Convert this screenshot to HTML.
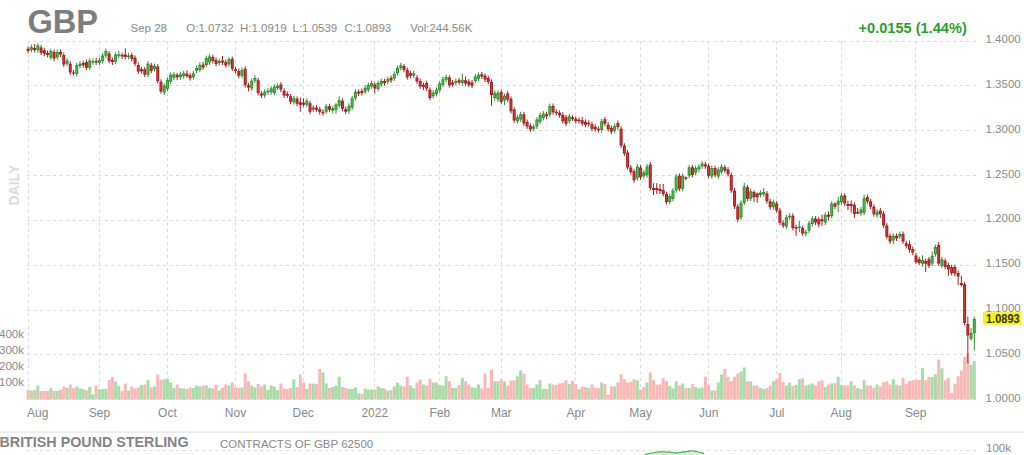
<!DOCTYPE html><html><head><meta charset="utf-8"><style>html,body{margin:0;padding:0;background:#fff;}body{width:1024px;height:455px;overflow:hidden;}svg{display:block;font-family:"Liberation Sans",Arial,Helvetica,sans-serif;}</style></head><body>
<svg width="1024" height="455" viewBox="0 0 1024 455">
<path d="M27 41.5H977 M27 85.5H977 M27 130.5H977 M27 175.5H977 M27 220.5H977 M27 265.5H977 M27 310.5H977 M27 354.5H977 M27 399.5H977 M28.5 41V399 M99.5 41V399 M167.5 41V399 M235.5 41V399 M303.5 41V399 M374.5 41V399 M439.5 41V399 M501.5 41V399 M575.5 41V399 M640.5 41V399 M708.5 41V399 M776.5 41V399 M841.5 41V399 M915.5 41V399" stroke="#dadada" stroke-width="1" stroke-dasharray="3.2 3.278" fill="none"/>
<path d="M26.62 389.8h3V399.5h-3zM33.10 389.8h3V399.5h-3zM39.58 391.0h3V399.5h-3zM42.82 391.0h3V399.5h-3zM46.06 391.0h3V399.5h-3zM52.54 391.0h3V399.5h-3zM59.02 389.8h3V399.5h-3zM62.26 386.4h3V399.5h-3zM68.75 384.4h3V399.5h-3zM71.99 388.3h3V399.5h-3zM84.95 390.3h3V399.5h-3zM94.67 385.4h3V399.5h-3zM107.63 380.0h3V399.5h-3zM110.87 377.1h3V399.5h-3zM120.59 391.3h3V399.5h-3zM123.83 383.4h3V399.5h-3zM130.31 386.5h3V399.5h-3zM133.55 388.6h3V399.5h-3zM136.79 387.5h3V399.5h-3zM143.27 384.4h3V399.5h-3zM149.76 387.5h3V399.5h-3zM156.24 374.6h3V399.5h-3zM159.48 379.8h3V399.5h-3zM175.68 384.4h3V399.5h-3zM185.40 389.1h3V399.5h-3zM188.64 387.5h3V399.5h-3zM201.60 385.5h3V399.5h-3zM211.32 388.6h3V399.5h-3zM214.56 385.0h3V399.5h-3zM221.04 388.1h3V399.5h-3zM224.28 384.4h3V399.5h-3zM230.77 382.4h3V399.5h-3zM234.01 387.5h3V399.5h-3zM237.25 388.1h3V399.5h-3zM243.73 373.6h3V399.5h-3zM246.97 381.3h3V399.5h-3zM256.69 383.9h3V399.5h-3zM259.93 386.5h3V399.5h-3zM279.37 383.4h3V399.5h-3zM282.61 388.6h3V399.5h-3zM285.85 389.1h3V399.5h-3zM289.09 388.1h3V399.5h-3zM295.57 387.0h3V399.5h-3zM298.81 374.6h3V399.5h-3zM302.05 382.4h3V399.5h-3zM308.53 383.4h3V399.5h-3zM315.02 383.9h3V399.5h-3zM318.26 368.9h3V399.5h-3zM327.98 388.1h3V399.5h-3zM340.94 387.0h3V399.5h-3zM344.18 388.1h3V399.5h-3zM360.38 393.7h3V399.5h-3zM373.34 389.6h3V399.5h-3zM383.06 388.6h3V399.5h-3zM389.54 390.1h3V399.5h-3zM402.51 386.5h3V399.5h-3zM405.75 376.7h3V399.5h-3zM415.47 382.4h3V399.5h-3zM418.71 379.8h3V399.5h-3zM425.19 385.5h3V399.5h-3zM428.43 378.8h3V399.5h-3zM447.87 381.3h3V399.5h-3zM457.59 385.0h3V399.5h-3zM464.07 381.3h3V399.5h-3zM467.31 384.4h3V399.5h-3zM480.28 388.6h3V399.5h-3zM483.52 373.6h3V399.5h-3zM486.76 388.1h3V399.5h-3zM490.00 369.5h3V399.5h-3zM499.72 379.3h3V399.5h-3zM506.20 385.5h3V399.5h-3zM509.44 380.8h3V399.5h-3zM512.68 380.3h3V399.5h-3zM522.40 373.6h3V399.5h-3zM525.64 384.4h3V399.5h-3zM528.88 388.1h3V399.5h-3zM545.08 389.1h3V399.5h-3zM551.56 384.4h3V399.5h-3zM554.81 385.0h3V399.5h-3zM558.05 383.4h3V399.5h-3zM561.29 382.9h3V399.5h-3zM564.53 380.3h3V399.5h-3zM571.01 380.8h3V399.5h-3zM574.25 383.9h3V399.5h-3zM580.73 386.5h3V399.5h-3zM583.97 387.0h3V399.5h-3zM590.45 384.4h3V399.5h-3zM593.69 387.5h3V399.5h-3zM596.93 388.1h3V399.5h-3zM603.41 383.9h3V399.5h-3zM606.65 394.8h3V399.5h-3zM609.89 386.5h3V399.5h-3zM616.37 382.4h3V399.5h-3zM619.61 374.6h3V399.5h-3zM622.85 379.3h3V399.5h-3zM626.09 382.4h3V399.5h-3zM629.33 381.9h3V399.5h-3zM632.57 379.3h3V399.5h-3zM639.06 389.6h3V399.5h-3zM642.30 387.0h3V399.5h-3zM648.78 372.6h3V399.5h-3zM652.02 380.3h3V399.5h-3zM655.26 384.4h3V399.5h-3zM658.50 384.4h3V399.5h-3zM661.74 378.2h3V399.5h-3zM664.98 381.3h3V399.5h-3zM677.94 385.5h3V399.5h-3zM684.42 388.1h3V399.5h-3zM690.90 383.9h3V399.5h-3zM703.86 376.7h3V399.5h-3zM707.10 384.4h3V399.5h-3zM713.58 390.6h3V399.5h-3zM723.31 368.9h3V399.5h-3zM726.55 376.7h3V399.5h-3zM729.79 381.3h3V399.5h-3zM733.03 376.7h3V399.5h-3zM736.27 373.6h3V399.5h-3zM745.99 381.3h3V399.5h-3zM752.47 385.5h3V399.5h-3zM755.71 385.5h3V399.5h-3zM765.43 388.1h3V399.5h-3zM768.67 385.5h3V399.5h-3zM775.15 379.3h3V399.5h-3zM778.39 373.1h3V399.5h-3zM781.63 381.9h3V399.5h-3zM791.35 386.0h3V399.5h-3zM801.08 378.2h3V399.5h-3zM814.04 385.5h3V399.5h-3zM817.28 381.3h3V399.5h-3zM820.52 380.3h3V399.5h-3zM827.00 384.4h3V399.5h-3zM833.48 382.9h3V399.5h-3zM843.20 385.5h3V399.5h-3zM846.44 385.5h3V399.5h-3zM852.92 385.5h3V399.5h-3zM859.40 389.1h3V399.5h-3zM865.88 385.5h3V399.5h-3zM869.12 385.5h3V399.5h-3zM872.36 388.1h3V399.5h-3zM878.85 386.5h3V399.5h-3zM882.09 382.4h3V399.5h-3zM885.33 381.3h3V399.5h-3zM888.57 384.4h3V399.5h-3zM895.05 384.4h3V399.5h-3zM901.53 377.7h3V399.5h-3zM904.77 383.7h3V399.5h-3zM908.01 380.9h3V399.5h-3zM911.25 380.3h3V399.5h-3zM914.49 379.7h3V399.5h-3zM917.73 379.7h3V399.5h-3zM924.21 380.3h3V399.5h-3zM927.45 376.9h3V399.5h-3zM937.17 359.7h3V399.5h-3zM943.65 380.3h3V399.5h-3zM946.89 378.0h3V399.5h-3zM950.13 392.9h3V399.5h-3zM953.37 383.7h3V399.5h-3zM956.61 376.3h3V399.5h-3zM959.86 370.6h3V399.5h-3zM963.10 356.9h3V399.5h-3zM966.34 353.0h3V399.5h-3z" fill="#f8b8b8"/>
<path d="M29.86 390.8h3V399.5h-3zM36.34 385.4h3V399.5h-3zM49.30 388.3h3V399.5h-3zM55.78 391.0h3V399.5h-3zM65.50 387.8h3V399.5h-3zM75.23 386.4h3V399.5h-3zM78.47 388.3h3V399.5h-3zM81.71 389.3h3V399.5h-3zM88.19 386.9h3V399.5h-3zM91.43 394.2h3V399.5h-3zM97.91 389.3h3V399.5h-3zM101.15 389.3h3V399.5h-3zM104.39 388.8h3V399.5h-3zM114.11 381.5h3V399.5h-3zM117.35 385.9h3V399.5h-3zM127.07 390.6h3V399.5h-3zM140.03 385.0h3V399.5h-3zM146.51 380.3h3V399.5h-3zM153.00 386.5h3V399.5h-3zM162.72 379.3h3V399.5h-3zM165.96 378.8h3V399.5h-3zM169.20 382.4h3V399.5h-3zM172.44 388.1h3V399.5h-3zM178.92 388.1h3V399.5h-3zM182.16 388.6h3V399.5h-3zM191.88 388.1h3V399.5h-3zM195.12 385.5h3V399.5h-3zM198.36 386.5h3V399.5h-3zM204.84 385.5h3V399.5h-3zM208.08 388.1h3V399.5h-3zM217.80 390.6h3V399.5h-3zM227.52 385.5h3V399.5h-3zM240.49 387.5h3V399.5h-3zM250.21 385.5h3V399.5h-3zM253.45 387.5h3V399.5h-3zM263.17 384.4h3V399.5h-3zM266.41 390.1h3V399.5h-3zM269.65 385.5h3V399.5h-3zM272.89 386.5h3V399.5h-3zM276.13 390.1h3V399.5h-3zM292.33 379.3h3V399.5h-3zM305.29 389.1h3V399.5h-3zM311.78 383.4h3V399.5h-3zM321.50 372.6h3V399.5h-3zM324.74 383.4h3V399.5h-3zM331.22 387.0h3V399.5h-3zM334.46 385.5h3V399.5h-3zM337.70 376.7h3V399.5h-3zM347.42 389.1h3V399.5h-3zM350.66 389.1h3V399.5h-3zM353.90 387.5h3V399.5h-3zM357.14 393.2h3V399.5h-3zM363.62 388.6h3V399.5h-3zM366.86 389.6h3V399.5h-3zM370.10 389.6h3V399.5h-3zM376.58 386.5h3V399.5h-3zM379.82 388.1h3V399.5h-3zM386.30 390.6h3V399.5h-3zM392.79 386.5h3V399.5h-3zM396.03 382.4h3V399.5h-3zM399.27 385.5h3V399.5h-3zM408.99 385.5h3V399.5h-3zM412.23 388.1h3V399.5h-3zM421.95 384.4h3V399.5h-3zM431.67 382.4h3V399.5h-3zM434.91 382.4h3V399.5h-3zM438.15 385.0h3V399.5h-3zM441.39 385.5h3V399.5h-3zM444.63 376.2h3V399.5h-3zM451.11 388.1h3V399.5h-3zM454.35 388.1h3V399.5h-3zM460.83 377.7h3V399.5h-3zM470.55 387.0h3V399.5h-3zM473.80 388.1h3V399.5h-3zM477.04 384.4h3V399.5h-3zM493.24 381.3h3V399.5h-3zM496.48 381.3h3V399.5h-3zM502.96 381.3h3V399.5h-3zM515.92 376.2h3V399.5h-3zM519.16 370.5h3V399.5h-3zM532.12 388.1h3V399.5h-3zM535.36 384.4h3V399.5h-3zM538.60 380.3h3V399.5h-3zM541.84 389.1h3V399.5h-3zM548.32 383.4h3V399.5h-3zM567.77 383.9h3V399.5h-3zM577.49 389.1h3V399.5h-3zM587.21 388.1h3V399.5h-3zM600.17 382.4h3V399.5h-3zM613.13 386.5h3V399.5h-3zM635.82 380.3h3V399.5h-3zM645.54 382.4h3V399.5h-3zM668.22 386.0h3V399.5h-3zM671.46 388.6h3V399.5h-3zM674.70 381.3h3V399.5h-3zM681.18 383.4h3V399.5h-3zM687.66 388.1h3V399.5h-3zM694.14 387.0h3V399.5h-3zM697.38 388.6h3V399.5h-3zM700.62 387.5h3V399.5h-3zM710.34 390.6h3V399.5h-3zM716.83 382.4h3V399.5h-3zM720.07 374.6h3V399.5h-3zM739.51 371.5h3V399.5h-3zM742.75 367.4h3V399.5h-3zM749.23 381.3h3V399.5h-3zM758.95 388.1h3V399.5h-3zM762.19 389.1h3V399.5h-3zM771.91 381.3h3V399.5h-3zM784.87 385.5h3V399.5h-3zM788.11 382.4h3V399.5h-3zM794.59 385.0h3V399.5h-3zM797.84 379.3h3V399.5h-3zM804.32 385.5h3V399.5h-3zM807.56 384.4h3V399.5h-3zM810.80 383.4h3V399.5h-3zM823.76 387.0h3V399.5h-3zM830.24 383.4h3V399.5h-3zM836.72 376.7h3V399.5h-3zM839.96 385.0h3V399.5h-3zM849.68 381.3h3V399.5h-3zM856.16 388.1h3V399.5h-3zM862.64 380.3h3V399.5h-3zM875.60 384.4h3V399.5h-3zM891.81 379.3h3V399.5h-3zM898.29 385.5h3V399.5h-3zM920.97 368.3h3V399.5h-3zM930.69 376.9h3V399.5h-3zM933.93 374.6h3V399.5h-3zM940.41 368.3h3V399.5h-3zM969.58 364.9h3V399.5h-3zM972.82 360.9h3V399.5h-3z" fill="#a8dba8"/>
<path d="M28.12 46.3V53.4M34.60 44.0V52.4M41.08 45.1V55.1M44.32 47.9V56.2M47.56 50.6V57.4M54.04 49.5V61.0M60.52 49.5V57.0M63.76 52.6V66.9M70.25 61.3V74.8M73.49 70.0V75.5M83.21 60.6V67.7M86.45 59.6V70.1M96.17 58.0V65.0M109.13 51.0V63.4M112.37 57.6V65.0M122.09 52.6V59.0M125.33 48.3V59.4M131.81 52.6V61.4M135.05 55.4V66.1M138.29 62.6V74.0M141.53 66.9V73.6M144.77 66.9V77.2M151.26 62.9V73.3M157.74 64.0V83.6M160.98 79.3V93.6M177.18 72.8V80.2M186.90 70.3V77.8M190.14 72.9V80.7M203.10 62.0V69.8M212.82 54.6V63.4M216.06 57.6V66.3M222.54 56.0V65.0M225.78 59.6V67.8M232.27 56.4V71.1M235.51 66.8V73.3M238.75 68.5V78.2M245.23 66.3V87.6M248.47 82.8V91.2M258.19 77.8V95.3M261.43 91.0V98.0M280.87 82.2V92.0M284.11 88.3V98.0M287.35 91.5V98.2M290.59 93.9V104.2M297.07 96.4V106.2M300.31 97.3V111.7M303.55 98.3V106.7M310.03 100.9V114.1M313.28 105.3V111.6M316.52 105.2V111.7M319.76 106.7V114.7M323.00 109.3V115.6M329.48 103.8V112.1M342.44 98.4V111.1M345.68 106.8V114.0M358.64 89.3V96.0M361.88 88.6V95.4M374.84 82.4V93.6M384.56 78.7V85.5M391.04 75.4V82.8M404.01 64.0V72.3M407.25 67.5V79.6M410.49 70.8V78.2M416.97 75.2V83.8M420.21 78.5V88.8M423.45 82.5V90.2M426.69 80.7V91.0M429.93 87.3V100.3M449.37 75.2V87.7M452.61 80.1V87.1M459.09 77.9V84.9M465.57 76.5V86.0M468.81 79.0V87.1M472.05 80.1V88.2M481.78 71.8V78.9M485.02 73.4V82.0M488.26 75.6V84.3M491.50 79.5V105.8M501.22 89.5V104.3M507.70 91.1V102.0M510.94 96.4V113.6M514.18 107.2V122.8M523.90 111.8V125.9M527.14 119.5V128.9M530.38 123.4V132.0M546.58 111.8V119.3M553.06 103.5V114.7M556.31 109.4V115.7M559.55 110.4V117.7M562.79 112.4V123.6M566.03 114.9V126.1M572.51 115.3V120.8M575.75 116.4V123.6M578.99 117.4V123.6M582.23 116.8V126.1M585.47 119.3V127.1M588.71 120.3V126.6M591.95 121.8V131.1M595.19 124.3V131.6M598.43 126.3V132.5M604.91 116.9V126.1M608.15 122.3V131.6M611.39 125.4V134.2M617.87 120.5V129.3M621.11 126.4V148.0M624.35 143.2V155.9M627.59 150.1V169.8M630.83 165.0V174.7M634.07 168.9V182.6M640.56 165.0V179.7M650.28 162.0V190.5M653.52 183.2V195.0M656.76 183.2V194.0M660.00 184.0V194.0M663.24 184.0V196.4M666.48 191.6V204.4M679.44 173.4V191.2M685.92 176.5V180.4M692.40 164.9V177.4M705.36 161.8V168.9M708.60 163.4V178.2M715.08 165.6V177.4M724.81 164.9V172.8M728.05 167.2V176.6M731.29 172.6V192.8M734.53 188.0V208.9M737.77 204.1V222.0M747.49 184.9V201.2M753.97 190.4V202.0M757.21 192.7V202.7M766.93 191.1V203.6M770.17 198.8V209.7M776.65 201.1V212.8M779.89 208.0V225.1M783.13 220.3V228.2M792.85 213.4V230.5M796.09 224.9V235.8M802.58 225.7V235.9M815.54 216.2V225.0M818.78 216.9V227.2M822.02 214.7V225.9M828.50 211.4V220.6M834.98 202.2V209.2M844.70 193.2V205.9M847.94 200.8V210.0M851.18 200.2V212.7M854.42 202.4V218.0M857.66 208.0V214.0M867.38 194.5V203.9M870.62 198.8V209.2M873.86 204.4V216.7M880.35 207.8V218.0M883.59 211.0V227.9M886.83 223.1V239.1M890.07 233.4V243.8M896.55 233.4V241.0M903.03 231.5V243.8M906.27 240.9V248.5M909.51 240.5V252.6M912.75 246.5V255.0M915.99 253.0V263.8M919.23 256.8V265.3M925.71 258.6V272.0M928.95 256.9V268.1M938.67 242.1V266.0M945.15 258.3V269.5M948.39 262.6V275.7M951.63 264.7V275.3M954.87 264.7V276.0M958.11 270.5V285.0M961.36 275.7V286.4M964.60 281.9V325.4M967.84 316.5V363.4" stroke="#a02020" stroke-width="1" fill="none"/>
<path d="M26.62 48.7h3v2.3h-3zM33.10 48.0h3v2.0h-3zM39.58 47.5h3v5.2h-3zM42.82 50.3h3v3.5h-3zM46.06 53.0h3v2.0h-3zM52.54 51.9h3v6.7h-3zM59.02 51.9h3v2.7h-3zM62.26 55.0h3v9.5h-3zM68.75 63.7h3v8.7h-3zM71.99 72.4h3v1.2h-3zM81.71 63.0h3v2.3h-3zM84.95 62.0h3v5.7h-3zM94.67 61.0h3v1.5h-3zM107.63 53.4h3v7.6h-3zM110.87 60.0h3v2.0h-3zM120.59 55.0h3v1.6h-3zM123.83 54.6h3v2.4h-3zM130.31 55.0h3v4.0h-3zM133.55 57.8h3v5.9h-3zM136.79 65.0h3v6.6h-3zM140.03 69.3h3v1.9h-3zM143.27 69.3h3v5.5h-3zM149.76 65.3h3v5.6h-3zM156.24 66.4h3v14.8h-3zM159.48 81.7h3v9.9h-3zM175.68 74.8h3v2.5h-3zM185.40 73.8h3v2.5h-3zM188.64 75.3h3v3.0h-3zM201.60 64.4h3v3.0h-3zM211.32 57.0h3v4.0h-3zM214.56 60.0h3v3.9h-3zM221.04 60.4h3v2.2h-3zM224.28 62.0h3v3.4h-3zM230.77 58.8h3v9.9h-3zM234.01 69.2h3v1.7h-3zM237.25 70.9h3v4.9h-3zM243.73 68.7h3v16.5h-3zM246.97 85.2h3v2.2h-3zM256.69 80.2h3v12.7h-3zM259.93 93.4h3v2.2h-3zM279.37 84.6h3v5.0h-3zM282.61 90.7h3v4.9h-3zM285.85 93.9h3v1.9h-3zM289.09 96.3h3v5.5h-3zM295.57 98.8h3v5.0h-3zM298.81 102.3h3v2.5h-3zM302.05 102.8h3v2.0h-3zM308.53 103.3h3v8.4h-3zM311.78 107.7h3v1.5h-3zM315.02 107.7h3v2.0h-3zM318.26 109.2h3v2.5h-3zM321.50 111.7h3v1.5h-3zM327.98 106.2h3v3.5h-3zM340.94 100.8h3v7.9h-3zM344.18 109.2h3v2.5h-3zM357.14 91.7h3v1.9h-3zM360.38 91.0h3v2.0h-3zM373.34 84.4h3v4.0h-3zM383.06 81.1h3v2.0h-3zM389.54 77.8h3v2.6h-3zM402.51 65.9h3v4.0h-3zM405.75 69.9h3v7.3h-3zM408.99 73.2h3v2.6h-3zM415.47 77.6h3v3.8h-3zM418.71 80.9h3v5.5h-3zM421.95 84.7h3v2.2h-3zM425.19 83.1h3v5.5h-3zM428.43 89.7h3v8.2h-3zM447.87 77.6h3v7.7h-3zM451.11 82.5h3v2.2h-3zM457.59 80.3h3v2.2h-3zM464.07 80.3h3v3.3h-3zM467.31 81.4h3v3.3h-3zM470.55 82.5h3v3.3h-3zM480.28 74.2h3v2.3h-3zM483.52 75.8h3v3.8h-3zM486.76 78.0h3v3.9h-3zM490.00 81.9h3v13.1h-3zM499.72 91.9h3v10.0h-3zM506.20 93.5h3v6.1h-3zM509.44 98.8h3v12.4h-3zM512.68 109.6h3v10.8h-3zM522.40 114.2h3v9.3h-3zM525.64 121.9h3v4.6h-3zM528.88 125.8h3v3.8h-3zM545.08 114.3h3v2.0h-3zM551.56 105.9h3v6.4h-3zM554.81 111.8h3v1.5h-3zM558.05 112.8h3v2.5h-3zM561.29 114.8h3v6.4h-3zM564.53 117.3h3v6.4h-3zM571.01 117.3h3v2.0h-3zM574.25 118.8h3v2.4h-3zM577.49 119.8h3v1.4h-3zM580.73 120.2h3v3.5h-3zM583.97 121.7h3v3.0h-3zM587.21 122.7h3v1.5h-3zM590.45 124.2h3v4.5h-3zM593.69 126.7h3v2.5h-3zM596.93 128.7h3v1.4h-3zM603.41 119.3h3v4.4h-3zM606.65 124.7h3v4.5h-3zM609.89 127.8h3v4.0h-3zM616.37 122.9h3v4.0h-3zM619.61 128.8h3v16.8h-3zM622.85 145.6h3v7.9h-3zM626.09 152.5h3v14.9h-3zM629.33 167.4h3v4.9h-3zM632.57 171.3h3v8.9h-3zM639.06 167.4h3v9.9h-3zM648.78 164.4h3v23.7h-3zM652.02 188.1h3v2.0h-3zM655.26 188.1h3v2.0h-3zM658.50 189.0h3v2.0h-3zM661.74 190.0h3v4.0h-3zM664.98 194.0h3v8.0h-3zM677.94 175.8h3v13.0h-3zM684.42 177.3h3v1.5h-3zM690.90 167.3h3v7.7h-3zM703.86 164.2h3v2.3h-3zM707.10 165.8h3v10.0h-3zM713.58 168.0h3v7.0h-3zM723.31 167.3h3v3.1h-3zM726.55 169.6h3v4.6h-3zM729.79 175.0h3v15.4h-3zM733.03 190.4h3v16.1h-3zM736.27 206.5h3v13.1h-3zM745.99 187.3h3v11.5h-3zM752.47 191.9h3v5.4h-3zM755.71 193.5h3v3.8h-3zM765.43 193.5h3v7.7h-3zM768.67 201.2h3v6.1h-3zM775.15 203.5h3v6.9h-3zM778.39 210.4h3v12.3h-3zM781.63 222.7h3v3.1h-3zM791.35 215.8h3v12.3h-3zM794.59 227.3h3v1.5h-3zM801.08 228.1h3v5.4h-3zM814.04 218.6h3v4.0h-3zM817.28 219.3h3v5.3h-3zM820.52 219.3h3v2.0h-3zM827.00 214.7h3v2.0h-3zM833.48 203.5h3v3.3h-3zM843.20 195.6h3v7.9h-3zM846.44 204.1h3v2.0h-3zM849.68 204.1h3v2.0h-3zM852.92 204.8h3v9.2h-3zM856.16 212.0h3v1.4h-3zM865.88 196.9h3v4.6h-3zM869.12 201.2h3v5.6h-3zM872.36 206.8h3v7.5h-3zM878.85 210.6h3v3.7h-3zM882.09 213.4h3v12.1h-3zM885.33 225.5h3v11.2h-3zM888.57 235.8h3v5.6h-3zM895.05 235.8h3v2.8h-3zM901.53 233.9h3v7.5h-3zM904.77 243.3h3v2.8h-3zM908.01 244.2h3v5.6h-3zM911.25 248.9h3v3.7h-3zM914.49 255.4h3v6.6h-3zM917.73 259.2h3v3.7h-3zM924.21 261.0h3v2.8h-3zM927.45 259.3h3v6.4h-3zM937.17 245.0h3v18.6h-3zM943.65 260.7h3v6.4h-3zM946.89 265.0h3v4.3h-3zM950.13 267.1h3v5.8h-3zM953.37 267.1h3v6.5h-3zM956.61 272.9h3v3.5h-3zM959.86 282.9h3v2.1h-3zM963.10 284.3h3v38.7h-3zM966.34 323.9h3v11.5h-3z" fill="#a02020"/>
<path d="M40.58 48.5h1v3.2h-1zM43.82 51.3h1v1.5h-1zM53.54 52.9h1v4.7h-1zM60.02 52.9h1v0.7h-1zM63.26 56.0h1v7.5h-1zM69.75 64.7h1v6.7h-1zM85.95 63.0h1v3.7h-1zM108.63 54.4h1v5.6h-1zM131.31 56.0h1v2.0h-1zM134.55 58.8h1v3.9h-1zM137.79 66.0h1v4.6h-1zM144.27 70.3h1v3.5h-1zM150.76 66.3h1v3.6h-1zM157.24 67.4h1v12.8h-1zM160.48 82.7h1v7.9h-1zM189.64 76.3h1v1.0h-1zM202.60 65.4h1v1.0h-1zM212.32 58.0h1v2.0h-1zM215.56 61.0h1v1.9h-1zM225.28 63.0h1v1.4h-1zM231.77 59.8h1v7.9h-1zM238.25 71.9h1v2.9h-1zM244.73 69.7h1v14.5h-1zM257.69 81.2h1v10.7h-1zM280.37 85.6h1v3.0h-1zM283.61 91.7h1v2.9h-1zM290.09 97.3h1v3.5h-1zM296.57 99.8h1v3.0h-1zM309.53 104.3h1v6.4h-1zM328.98 107.2h1v1.5h-1zM341.94 101.8h1v5.9h-1zM374.34 85.4h1v2.0h-1zM390.54 78.8h1v0.6h-1zM403.51 66.9h1v2.0h-1zM406.75 70.9h1v5.3h-1zM409.99 74.2h1v0.6h-1zM416.47 78.6h1v1.8h-1zM419.71 81.9h1v3.5h-1zM426.19 84.1h1v3.5h-1zM429.43 90.7h1v6.2h-1zM448.87 78.6h1v5.7h-1zM465.07 81.3h1v1.3h-1zM468.31 82.4h1v1.3h-1zM471.55 83.5h1v1.3h-1zM484.52 76.8h1v1.8h-1zM487.76 79.0h1v1.9h-1zM491.00 82.9h1v11.1h-1zM500.72 92.9h1v8.0h-1zM507.20 94.5h1v4.1h-1zM510.44 99.8h1v10.4h-1zM513.68 110.6h1v8.8h-1zM523.40 115.2h1v7.3h-1zM526.64 122.9h1v2.6h-1zM529.88 126.8h1v1.8h-1zM552.56 106.9h1v4.4h-1zM562.29 115.8h1v4.4h-1zM565.53 118.3h1v4.4h-1zM581.73 121.2h1v1.5h-1zM584.97 122.7h1v1.0h-1zM591.45 125.2h1v2.5h-1zM604.41 120.3h1v2.4h-1zM607.65 125.7h1v2.5h-1zM610.89 128.8h1v2.0h-1zM617.37 123.9h1v2.0h-1zM620.61 129.8h1v14.8h-1zM623.85 146.6h1v5.9h-1zM627.09 153.5h1v12.9h-1zM630.33 168.4h1v2.9h-1zM633.57 172.3h1v6.9h-1zM640.06 168.4h1v7.9h-1zM649.78 165.4h1v21.7h-1zM662.74 191.0h1v2.0h-1zM665.98 195.0h1v6.0h-1zM678.94 176.8h1v11.0h-1zM691.90 168.3h1v5.7h-1zM708.10 166.8h1v8.0h-1zM714.58 169.0h1v5.0h-1zM724.31 168.3h1v1.1h-1zM727.55 170.6h1v2.6h-1zM730.79 176.0h1v13.4h-1zM734.03 191.4h1v14.1h-1zM737.27 207.5h1v11.1h-1zM746.99 188.3h1v9.5h-1zM753.47 192.9h1v3.4h-1zM756.71 194.5h1v1.8h-1zM766.43 194.5h1v5.7h-1zM769.67 202.2h1v4.1h-1zM776.15 204.5h1v4.9h-1zM779.39 211.4h1v10.3h-1zM782.63 223.7h1v1.1h-1zM792.35 216.8h1v10.3h-1zM802.08 229.1h1v3.4h-1zM815.04 219.6h1v2.0h-1zM818.28 220.3h1v3.3h-1zM834.48 204.5h1v1.3h-1zM844.20 196.6h1v5.9h-1zM853.92 205.8h1v7.2h-1zM866.88 197.9h1v2.6h-1zM870.12 202.2h1v3.6h-1zM873.36 207.8h1v5.5h-1zM879.85 211.6h1v1.7h-1zM883.09 214.4h1v10.1h-1zM886.33 226.5h1v9.2h-1zM889.57 236.8h1v3.6h-1zM896.05 236.8h1v0.8h-1zM902.53 234.9h1v5.5h-1zM905.77 244.3h1v0.8h-1zM909.01 245.2h1v3.6h-1zM912.25 249.9h1v1.7h-1zM915.49 256.4h1v4.6h-1zM918.73 260.2h1v1.7h-1zM925.21 262.0h1v0.8h-1zM928.45 260.3h1v4.4h-1zM938.17 246.0h1v16.6h-1zM944.65 261.7h1v4.4h-1zM947.89 266.0h1v2.3h-1zM951.13 268.1h1v3.8h-1zM954.37 268.1h1v4.5h-1zM957.61 273.9h1v1.5h-1zM964.10 285.3h1v36.7h-1zM967.34 324.9h1v9.5h-1z" fill="#d83a3a"/>
<path d="M31.36 44.6V52.4M37.84 43.1V52.7M50.80 48.6V59.8M57.28 49.5V59.8M67.00 58.2V66.1M76.73 62.9V76.4M79.97 61.3V68.4M89.69 58.2V70.1M92.93 58.6V64.9M99.41 57.6V65.4M102.65 53.0V63.4M105.89 48.6V58.2M115.61 52.2V64.2M118.85 51.0V58.2M128.57 53.0V59.4M148.01 61.3V77.2M154.50 63.6V71.7M164.22 83.3V95.0M167.46 77.4V91.1M170.70 72.4V84.1M173.94 71.9V80.2M180.42 71.9V79.7M183.66 70.9V78.7M193.38 70.9V79.7M196.62 65.5V73.2M199.86 62.5V72.3M206.34 55.6V67.3M209.58 54.1V64.8M219.30 58.6V65.4M229.02 56.9V66.7M241.99 67.4V78.2M251.71 78.4V90.9M254.95 75.3V83.2M264.67 89.4V98.0M267.91 88.3V94.7M271.15 86.1V94.7M274.39 84.4V95.3M277.63 83.3V90.3M293.83 95.9V104.7M306.79 98.4V107.2M326.24 103.8V114.1M332.72 105.8V113.1M335.96 103.2V113.7M339.20 96.3V107.9M348.92 103.3V113.6M352.16 95.9V109.9M355.40 89.3V100.7M365.12 85.3V94.1M368.36 82.6V92.1M371.60 80.6V88.8M378.08 80.6V91.4M381.32 78.7V86.8M387.80 76.7V84.2M394.29 71.5V80.9M397.53 65.5V75.6M400.77 62.9V70.3M413.73 70.8V78.2M433.17 90.0V98.7M436.41 87.3V96.5M439.65 81.2V92.6M442.89 76.8V87.1M446.13 74.6V82.2M455.85 78.5V85.5M462.33 73.7V85.5M475.30 74.1V83.3M478.54 72.4V81.1M494.74 90.3V100.5M497.98 90.3V102.0M504.46 93.4V105.0M517.42 114.9V123.6M520.66 111.8V122.0M533.62 124.1V131.2M536.86 117.2V128.9M540.10 112.6V124.3M543.34 111.1V120.5M549.82 103.5V117.2M569.27 113.9V123.6M601.67 118.8V132.5M614.63 123.5V133.2M637.32 164.0V180.6M643.80 169.9V178.7M647.04 164.0V177.7M669.72 193.6V204.4M672.96 188.1V201.4M676.20 174.1V192.8M682.68 173.4V191.2M689.16 164.9V178.2M695.64 165.6V175.1M698.88 164.1V172.0M702.12 161.1V168.9M711.84 165.6V178.9M718.33 167.2V178.9M721.57 164.1V174.3M741.01 200.3V219.7M744.25 182.7V205.1M750.73 188.8V201.2M760.45 190.3V197.4M763.69 188.0V196.6M773.41 199.5V209.7M786.37 214.9V228.9M789.61 213.4V219.7M799.34 221.0V232.0M805.82 229.9V236.5M809.06 220.9V232.9M812.30 216.2V226.3M825.26 212.3V225.0M831.74 201.1V218.4M838.22 196.9V212.0M841.46 193.2V204.6M860.90 207.0V215.8M864.14 194.9V215.1M877.10 209.1V217.6M893.31 233.4V244.2M899.79 231.5V239.1M922.47 255.4V266.6M932.19 251.4V266.0M935.43 244.7V256.7M941.91 256.9V268.1M971.08 328.0V340.5M974.32 316.6V350.6" stroke="#2f8f2f" stroke-width="1" fill="none"/>
<path d="M29.86 47.0h3v3.0h-3zM36.34 45.5h3v4.8h-3zM49.30 51.0h3v6.4h-3zM55.78 51.9h3v5.5h-3zM65.50 60.6h3v3.1h-3zM75.23 65.3h3v8.7h-3zM78.47 63.7h3v2.3h-3zM88.19 60.6h3v7.1h-3zM91.43 61.0h3v1.5h-3zM97.91 60.0h3v3.0h-3zM101.15 55.4h3v5.6h-3zM104.39 51.0h3v4.8h-3zM114.11 54.6h3v7.2h-3zM117.35 54.2h3v1.6h-3zM127.07 55.4h3v1.6h-3zM146.51 63.7h3v11.1h-3zM153.00 66.0h3v3.3h-3zM162.72 85.7h3v6.9h-3zM165.96 79.8h3v8.9h-3zM169.20 74.8h3v6.9h-3zM172.44 74.3h3v3.5h-3zM178.92 74.3h3v3.0h-3zM182.16 73.3h3v3.0h-3zM191.88 73.3h3v4.0h-3zM195.12 67.9h3v2.9h-3zM198.36 64.9h3v5.0h-3zM204.84 58.0h3v6.9h-3zM208.08 56.5h3v5.9h-3zM217.80 61.0h3v2.0h-3zM227.52 59.3h3v5.0h-3zM240.49 69.8h3v6.0h-3zM250.21 80.8h3v7.7h-3zM253.45 78.0h3v2.8h-3zM263.17 91.8h3v3.8h-3zM266.41 90.7h3v1.6h-3zM269.65 88.5h3v3.8h-3zM272.89 86.8h3v6.1h-3zM276.13 85.7h3v2.2h-3zM292.33 98.3h3v4.0h-3zM305.29 100.8h3v4.0h-3zM324.74 106.2h3v5.5h-3zM331.22 108.2h3v2.5h-3zM334.46 104.5h3v5.3h-3zM337.70 99.9h3v5.6h-3zM347.42 105.7h3v5.5h-3zM350.66 98.3h3v9.2h-3zM353.90 91.7h3v6.6h-3zM363.62 87.7h3v4.0h-3zM366.86 85.0h3v4.7h-3zM370.10 83.0h3v3.4h-3zM376.58 83.0h3v6.0h-3zM379.82 81.1h3v3.3h-3zM386.30 79.1h3v2.7h-3zM392.79 73.9h3v4.6h-3zM396.03 67.9h3v5.3h-3zM399.27 65.3h3v2.6h-3zM412.23 73.2h3v2.6h-3zM431.67 92.4h3v3.9h-3zM434.91 89.7h3v4.4h-3zM438.15 83.6h3v6.6h-3zM441.39 79.2h3v5.5h-3zM444.63 77.0h3v2.8h-3zM454.35 80.9h3v2.2h-3zM460.83 79.8h3v3.3h-3zM473.80 76.5h3v4.4h-3zM477.04 74.8h3v3.9h-3zM493.24 92.7h3v5.4h-3zM496.48 92.7h3v6.9h-3zM502.96 95.8h3v4.6h-3zM515.92 117.3h3v3.9h-3zM519.16 114.2h3v5.4h-3zM532.12 126.5h3v2.3h-3zM535.36 119.6h3v6.9h-3zM538.60 115.0h3v6.9h-3zM541.84 113.5h3v4.6h-3zM548.32 105.9h3v8.9h-3zM567.77 116.3h3v4.9h-3zM600.17 121.2h3v8.9h-3zM613.13 125.9h3v4.9h-3zM635.82 166.4h3v11.8h-3zM642.30 172.3h3v4.0h-3zM645.54 166.4h3v8.9h-3zM668.22 196.0h3v6.0h-3zM671.46 190.5h3v8.5h-3zM674.70 176.5h3v13.9h-3zM681.18 175.8h3v13.0h-3zM687.66 167.3h3v8.5h-3zM694.14 168.0h3v4.7h-3zM697.38 166.5h3v3.1h-3zM700.62 163.5h3v3.0h-3zM710.34 168.0h3v8.5h-3zM716.83 169.6h3v6.9h-3zM720.07 166.5h3v5.4h-3zM739.51 202.7h3v14.6h-3zM742.75 186.5h3v16.2h-3zM749.23 191.2h3v7.6h-3zM758.95 192.7h3v2.3h-3zM762.19 191.9h3v2.3h-3zM771.91 201.9h3v5.4h-3zM784.87 217.3h3v9.2h-3zM788.11 215.8h3v1.5h-3zM797.84 226.5h3v1.6h-3zM804.32 231.8h3v2.0h-3zM807.56 223.3h3v7.2h-3zM810.80 218.6h3v5.3h-3zM823.76 214.7h3v7.9h-3zM830.24 203.5h3v12.5h-3zM836.72 200.8h3v4.0h-3zM839.96 195.6h3v6.6h-3zM859.40 209.4h3v4.0h-3zM862.64 198.2h3v14.5h-3zM875.60 211.5h3v3.7h-3zM891.81 235.8h3v4.7h-3zM898.29 233.9h3v2.8h-3zM920.97 260.0h3v3.8h-3zM930.69 255.7h3v7.9h-3zM933.93 247.1h3v7.2h-3zM940.41 259.3h3v6.4h-3zM969.58 333.0h3v5.7h-3zM972.82 319.0h3v14.3h-3z" fill="#2f8f2f"/>
<path d="M30.86 48.0h1v1.0h-1zM37.34 46.5h1v2.8h-1zM50.30 52.0h1v4.4h-1zM56.78 52.9h1v3.5h-1zM66.50 61.6h1v1.1h-1zM76.23 66.3h1v6.7h-1zM89.19 61.6h1v5.1h-1zM98.91 61.0h1v1.0h-1zM102.15 56.4h1v3.6h-1zM105.39 52.0h1v2.8h-1zM115.11 55.6h1v5.2h-1zM147.51 64.7h1v9.1h-1zM154.00 67.0h1v1.3h-1zM163.72 86.7h1v4.9h-1zM166.96 80.8h1v6.9h-1zM170.20 75.8h1v4.9h-1zM173.44 75.3h1v1.5h-1zM179.92 75.3h1v1.0h-1zM183.16 74.3h1v1.0h-1zM192.88 74.3h1v2.0h-1zM196.12 68.9h1v0.9h-1zM199.36 65.9h1v3.0h-1zM205.84 59.0h1v4.9h-1zM209.08 57.5h1v3.9h-1zM228.52 60.3h1v3.0h-1zM241.49 70.8h1v4.0h-1zM251.21 81.8h1v5.7h-1zM254.45 79.0h1v0.8h-1zM264.17 92.8h1v1.8h-1zM270.65 89.5h1v1.8h-1zM273.89 87.8h1v4.1h-1zM293.33 99.3h1v2.0h-1zM306.29 101.8h1v2.0h-1zM325.74 107.2h1v3.5h-1zM335.46 105.5h1v3.3h-1zM338.70 100.9h1v3.6h-1zM348.42 106.7h1v3.5h-1zM351.66 99.3h1v7.2h-1zM354.90 92.7h1v4.6h-1zM364.62 88.7h1v2.0h-1zM367.86 86.0h1v2.7h-1zM371.10 84.0h1v1.4h-1zM377.58 84.0h1v4.0h-1zM380.82 82.1h1v1.3h-1zM387.30 80.1h1v0.7h-1zM393.79 74.9h1v2.6h-1zM397.03 68.9h1v3.3h-1zM400.27 66.3h1v0.6h-1zM413.23 74.2h1v0.6h-1zM432.67 93.4h1v1.9h-1zM435.91 90.7h1v2.4h-1zM439.15 84.6h1v4.6h-1zM442.39 80.2h1v3.5h-1zM445.63 78.0h1v0.8h-1zM461.83 80.8h1v1.3h-1zM474.80 77.5h1v2.4h-1zM478.04 75.8h1v1.9h-1zM494.24 93.7h1v3.4h-1zM497.48 93.7h1v4.9h-1zM503.96 96.8h1v2.6h-1zM516.92 118.3h1v1.9h-1zM520.16 115.2h1v3.4h-1zM536.36 120.6h1v4.9h-1zM539.60 116.0h1v4.9h-1zM542.84 114.5h1v2.6h-1zM549.32 106.9h1v6.9h-1zM568.77 117.3h1v2.9h-1zM601.17 122.2h1v6.9h-1zM614.13 126.9h1v2.9h-1zM636.82 167.4h1v9.8h-1zM643.30 173.3h1v2.0h-1zM646.54 167.4h1v6.9h-1zM669.22 197.0h1v4.0h-1zM672.46 191.5h1v6.5h-1zM675.70 177.5h1v11.9h-1zM682.18 176.8h1v11.0h-1zM688.66 168.3h1v6.5h-1zM695.14 169.0h1v2.7h-1zM698.38 167.5h1v1.1h-1zM701.62 164.5h1v1.0h-1zM711.34 169.0h1v6.5h-1zM717.83 170.6h1v4.9h-1zM721.07 167.5h1v3.4h-1zM740.51 203.7h1v12.6h-1zM743.75 187.5h1v14.2h-1zM750.23 192.2h1v5.6h-1zM772.91 202.9h1v3.4h-1zM785.87 218.3h1v7.2h-1zM808.56 224.3h1v5.2h-1zM811.80 219.6h1v3.3h-1zM824.76 215.7h1v5.9h-1zM831.24 204.5h1v10.5h-1zM837.72 201.8h1v2.0h-1zM840.96 196.6h1v4.6h-1zM860.40 210.4h1v2.0h-1zM863.64 199.2h1v12.5h-1zM876.60 212.5h1v1.7h-1zM892.81 236.8h1v2.7h-1zM899.29 234.9h1v0.8h-1zM921.97 261.0h1v1.8h-1zM931.69 256.7h1v5.9h-1zM934.93 248.1h1v5.2h-1zM941.41 260.3h1v4.4h-1zM970.58 334.0h1v3.7h-1zM973.82 320.0h1v12.3h-1z" fill="#55c455"/>
<text x="985.5" y="42.9" font-size="11.5" fill="#8a8a8a">1.4000</text>
<text x="985.5" y="87.8" font-size="11.5" fill="#8a8a8a">1.3500</text>
<text x="985.5" y="132.6" font-size="11.5" fill="#8a8a8a">1.3000</text>
<text x="985.5" y="177.5" font-size="11.5" fill="#8a8a8a">1.2500</text>
<text x="985.5" y="222.3" font-size="11.5" fill="#8a8a8a">1.2000</text>
<text x="985.5" y="267.1" font-size="11.5" fill="#8a8a8a">1.1500</text>
<text x="985.5" y="312.0" font-size="11.5" fill="#8a8a8a">1.1000</text>
<text x="985.5" y="356.8" font-size="11.5" fill="#8a8a8a">1.0500</text>
<text x="985.5" y="401.7" font-size="11.5" fill="#8a8a8a">1.0000</text>
<rect x="983" y="312.2" width="38.6" height="12.5" fill="#f2f21e"/>
<text x="986" y="322.7" font-size="12.2" font-weight="bold" fill="#36360a" textLength="33.6" lengthAdjust="spacingAndGlyphs">1.0893</text>
<text x="24" y="337.7" font-size="11.5" fill="#8a8a8a" text-anchor="end">400k</text>
<text x="24" y="353.5" font-size="11.5" fill="#8a8a8a" text-anchor="end">300k</text>
<text x="24" y="369.7" font-size="11.5" fill="#8a8a8a" text-anchor="end">200k</text>
<text x="24" y="385.5" font-size="11.5" fill="#8a8a8a" text-anchor="end">100k</text>
<text x="27" y="417" font-size="12" fill="#8a8a8a">Aug</text>
<text x="99.5" y="417" font-size="12" fill="#8a8a8a" text-anchor="middle">Sep</text>
<text x="167.4" y="417" font-size="12" fill="#8a8a8a" text-anchor="middle">Oct</text>
<text x="235.5" y="417" font-size="12" fill="#8a8a8a" text-anchor="middle">Nov</text>
<text x="303.2" y="417" font-size="12" fill="#8a8a8a" text-anchor="middle">Dec</text>
<text x="374.8" y="417" font-size="12" fill="#8a8a8a" text-anchor="middle">2022</text>
<text x="439.9" y="417" font-size="12" fill="#8a8a8a" text-anchor="middle">Feb</text>
<text x="501.3" y="417" font-size="12" fill="#8a8a8a" text-anchor="middle">Mar</text>
<text x="575.9" y="417" font-size="12" fill="#8a8a8a" text-anchor="middle">Apr</text>
<text x="640.7" y="417" font-size="12" fill="#8a8a8a" text-anchor="middle">May</text>
<text x="708.7" y="417" font-size="12" fill="#8a8a8a" text-anchor="middle">Jun</text>
<text x="776.8" y="417" font-size="12" fill="#8a8a8a" text-anchor="middle">Jul</text>
<text x="841.3" y="417" font-size="12" fill="#8a8a8a" text-anchor="middle">Aug</text>
<text x="915.8" y="417" font-size="12" fill="#8a8a8a" text-anchor="middle">Sep</text>
<text x="27.4" y="32.6" font-size="32.6" font-weight="bold" fill="#7d7d7d">GBP</text>
<text x="130.5" y="32.3" font-size="11.5" fill="#8a8a8a">Sep 28</text>
<text x="186.3" y="32.3" font-size="11.5" fill="#8a8a8a">O:1.0732</text>
<text x="240" y="32.3" font-size="11.5" fill="#8a8a8a">H:1.0919</text>
<text x="292.5" y="32.3" font-size="11.5" fill="#8a8a8a">L:1.0539</text>
<text x="344.5" y="32.3" font-size="11.5" fill="#8a8a8a">C:1.0893</text>
<text x="410.3" y="32.3" font-size="11.5" fill="#8a8a8a">Vol:244.56K</text>
<text x="858.5" y="32.5" font-size="14.6" font-weight="bold" fill="#2f9e2f">+0.0155 (1.44%)</text>
<text transform="translate(19.2 205.5) rotate(-90)" font-size="14" font-weight="bold" fill="#dcdcdc">DAILY</text>
<rect x="0" y="431.5" width="1024" height="1.2" fill="#e6e6e6"/>
<text x="-0.5" y="446.8" font-size="14.3" font-weight="bold" fill="#858585">BRITISH POUND STERLING</text>
<text x="220" y="447.9" font-size="11.5" fill="#8a8a8a">CONTRACTS OF GBP 62500</text>
<path d="M27 450.5H977" stroke="#dadada" stroke-width="1" stroke-dasharray="3.2 3.278"/>
<text x="986" y="452.4" font-size="11.5" fill="#8a8a8a">100k</text>
<path d="M644 456 L644.5 454.5 L652 453 L659 451.7 L669.5 452.1 L675.7 453 L682.7 452.1 L691.5 450.8 L696 451.5 L703 453 L704 456Z" fill="#d2f0d2"/>
<path d="M644.5 454.5 L652 453 L659 451.7 L669.5 452.1 L675.7 453 L682.7 452.1 L691.5 450.8 L696 451.5 L703 453 L704 454" stroke="#45ab45" stroke-width="1.1" fill="none"/>
</svg></body></html>
